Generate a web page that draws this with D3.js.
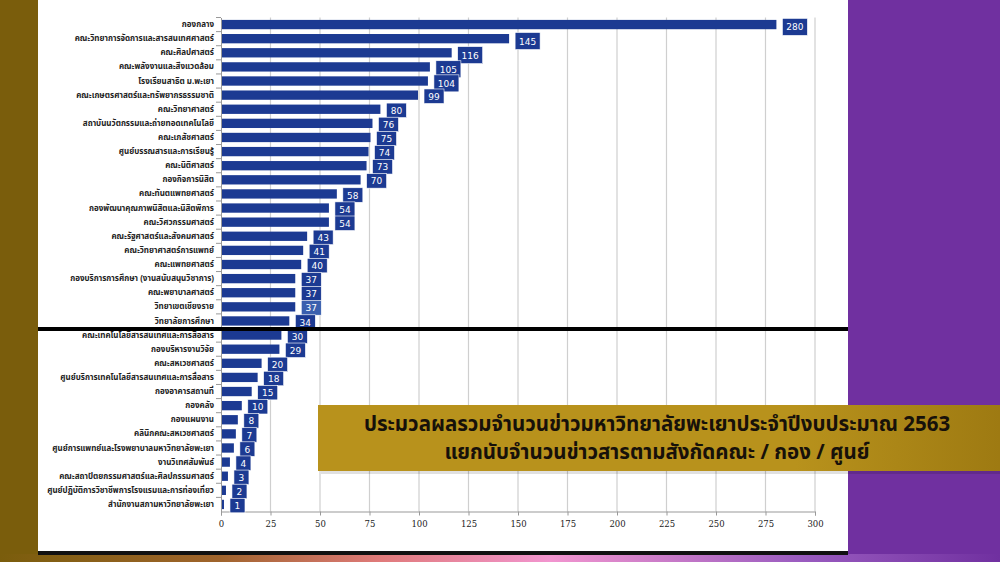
<!DOCTYPE html>
<html>
<head>
<meta charset="utf-8">
<script src="https://cdnjs.cloudflare.com/ajax/libs/d3/7.8.5/d3.min.js"></script>
<style>
  body { margin: 0; background: #7a5d0c; overflow: hidden; }
  svg { display: block; }
</style>
</head>
<body>
<div id="chart"></div>
<script>
var units = [
  'กองกลาง', 'คณะวิทยาการจัดการและสารสนเทศศาสตร์', 'คณะศิลปศาสตร์', 'คณะพลังงานและสิ่งแวดล้อม',
  'โรงเรียนสาธิต ม.พะเยา', 'คณะเกษตรศาสตร์และทรัพยากรธรรมชาติ', 'คณะวิทยาศาสตร์',
  'สถาบันนวัตกรรมและถ่ายทอดเทคโนโลยี', 'คณะเภสัชศาสตร์', 'ศูนย์บรรณสารและการเรียนรู้', 'คณะนิติศาสตร์',
  'กองกิจการนิสิต', 'คณะทันตแพทยศาสตร์', 'กองพัฒนาคุณภาพนิสิตและนิสิตพิการ', 'คณะวิศวกรรมศาสตร์',
  'คณะรัฐศาสตร์และสังคมศาสตร์', 'คณะวิทยาศาสตร์การแพทย์', 'คณะแพทยศาสตร์',
  'กองบริการการศึกษา (งานสนับสนุนวิชาการ)', 'คณะพยาบาลศาสตร์', 'วิทยาเขตเชียงราย', 'วิทยาลัยการศึกษา',
  'คณะเทคโนโลยีสารสนเทศและการสื่อสาร', 'กองบริหารงานวิจัย', 'คณะสหเวชศาสตร์',
  'ศูนย์บริการเทคโนโลยีสารสนเทศและการสื่อสาร', 'กองอาคารสถานที่', 'กองคลัง', 'กองแผนงาน',
  'คลินิกคณะสหเวชศาสตร์', 'ศูนย์การแพทย์และโรงพยาบาลมหาวิทยาลัยพะเยา', 'งานวิเทศสัมพันธ์',
  'คณะสถาปัตยกรรมศาสตร์และศิลปกรรมศาสตร์', 'ศูนย์ปฏิบัติการวิชาชีพการโรงแรมและการท่องเที่ยว',
  'สำนักงานสภามหาวิทยาลัยพะเยา'
];
var newsCount = [280, 145, 116, 105, 104, 99, 80, 76, 75, 74, 73, 70, 58, 54, 54, 43, 41, 40,
  37, 37, 37, 34, 30, 29, 20, 18, 15, 10, 8, 7, 6, 4, 3, 2, 1];
var xTicks = [0, 25, 50, 75, 100, 125, 150, 175, 200, 225, 250, 275, 300];
var titleLines = ['ประมวลผลรวมจำนวนข่าวมหาวิทยาลัยพะเยาประจำปีงบประมาณ 2563',
  'แยกนับจำนวนข่าวสารตามสังกัดคณะ / กอง / ศูนย์'];

var W = 1000, H = 562;
var thaiFont = "'Noto Sans Thai', 'Tahoma', 'DejaVu Sans', sans-serif";

var svg = d3.select('#chart').append('svg')
  .attr('width', W).attr('height', H);

// backdrop: olive left strip, white slide, purple right band, gradient at bottom
var defs = svg.append('defs');
var grad = defs.append('linearGradient').attr('id', 'bottomGrad');
grad.append('stop').attr('offset', '0%').attr('stop-color', '#7a5d0c');
grad.append('stop').attr('offset', '22%').attr('stop-color', '#a0642c');
grad.append('stop').attr('offset', '38%').attr('stop-color', '#e07a7a');
grad.append('stop').attr('offset', '55%').attr('stop-color', '#f295cf');
grad.append('stop').attr('offset', '80%').attr('stop-color', '#9a5cc0');
grad.append('stop').attr('offset', '100%').attr('stop-color', '#7030a0');

var bannerGrad = defs.append('linearGradient').attr('id', 'bannerGrad');
bannerGrad.append('stop').attr('offset', '0%').attr('stop-color', '#b8921c');
bannerGrad.append('stop').attr('offset', '70%').attr('stop-color', '#b8921c');
bannerGrad.append('stop').attr('offset', '100%').attr('stop-color', '#9e7a12');

svg.append('rect').attr('x', 0).attr('y', 0).attr('width', W).attr('height', H).attr('fill', '#7a5d0c');
svg.append('rect').attr('x', 0).attr('y', 554).attr('width', W).attr('height', 8).attr('fill', 'url(#bottomGrad)');
svg.append('rect').attr('x', 848).attr('y', 0).attr('width', 152).attr('height', 554).attr('fill', '#7030a0');
svg.append('rect').attr('x', 38).attr('y', 0).attr('width', 810).attr('height', 551).attr('fill', '#fff');
svg.append('rect').attr('x', 38).attr('y', 551).attr('width', 810).attr('height', 4).attr('fill', '#111');

var margin = { left: 221, right: 185, top: 17.5, bottom: 50.5 };

var x = d3.scaleLinear()
  .domain([0, 300])
  .range([margin.left, W - margin.right]);

var y = d3.scaleBand()
  .domain(units)
  .range([margin.top, H - margin.bottom])
  .paddingInner(0.34)
  .paddingOuter(0.17);

// gridlines
svg.append('g')
  .selectAll('line')
  .data(xTicks.slice(1))
  .enter().append('line')
  .attr('x1', function(d) { return x(d); })
  .attr('x2', function(d) { return x(d); })
  .attr('y1', margin.top)
  .attr('y2', H - margin.bottom)
  .attr('stroke', '#cfcfcf')
  .attr('stroke-width', 1.2);

// x axis
var xAxis = svg.append('g')
  .attr('transform', 'translate(0,' + (H - margin.bottom) + ')')
  .call(d3.axisBottom(x).tickValues(xTicks).tickSize(4).tickPadding(5));
xAxis.select('.domain').attr('stroke', '#999');
xAxis.selectAll('.tick line').attr('stroke', '#999');
xAxis.selectAll('text')
  .attr('fill', '#222')
  .style('font-family', "'DejaVu Serif', serif")
  .style('font-size', '8.5px');

// y axis
var yAxis = svg.append('g')
  .attr('transform', 'translate(' + margin.left + ',0)')
  .call(d3.axisLeft(y).tickSize(0).tickPadding(7));
yAxis.select('.domain').attr('stroke', '#999');
yAxis.selectAll('text')
  .attr('fill', '#222')
  .style('font-family', thaiFont)
  .style('font-weight', 'bold')
  .style('font-size', '8px');

// small marks between categories
svg.append('g')
  .selectAll('line')
  .data(units)
  .enter().append('line')
  .attr('x1', margin.left - 5)
  .attr('x2', margin.left)
  .attr('y1', function(d) { return y(d) - y.step() * y.paddingInner() / 2; })
  .attr('y2', function(d) { return y(d) - y.step() * y.paddingInner() / 2; })
  .attr('stroke', '#999');

// bars
svg.append('g')
  .selectAll('rect')
  .data(units)
  .enter().append('rect')
  .attr('x', x(0) + 1)
  .attr('y', function(d) { return y(d); })
  .attr('width', function(d, i) { return x(newsCount[i]) - x(0); })
  .attr('height', y.bandwidth())
  .attr('fill', '#1c3a92');

// value labels in dark boxes
function boxWidth(v) { return v >= 100 ? 25 : (v >= 10 ? 20 : 15); }

var labels = svg.append('g')
  .selectAll('g')
  .data(units)
  .enter().append('g')
  .attr('transform', function(d, i) {
    return 'translate(' + (x(newsCount[i]) + 7) + ',' + (y(d) - 1.5) + ')';
  });

labels.append('rect')
  .attr('width', function(d, i) { return boxWidth(newsCount[i]); })
  .attr('height', function(d, i) { return newsCount[i] >= 100 ? 17 : 14.5; })
  .attr('fill', function(d) { return d === 'วิทยาเขตเชียงราย' ? '#3a5fae' : '#1c3a92'; })
  .attr('stroke', '#fff')
  .attr('stroke-width', 0.6);

labels.append('text')
  .attr('x', function(d, i) { return boxWidth(newsCount[i]) / 2; })
  .attr('y', function(d, i) { return newsCount[i] >= 100 ? 12 : 10.8; })
  .attr('text-anchor', 'middle')
  .attr('fill', '#fff')
  .style('font-family', "'DejaVu Sans', sans-serif")
  .style('font-size', '9px')
  .text(function(d, i) { return newsCount[i]; });

// thick divider line
svg.append('rect')
  .attr('x', 38).attr('y', 327).attr('width', 810).attr('height', 4)
  .attr('fill', '#000');

// title banner
svg.append('rect')
  .attr('x', 321).attr('y', 408).attr('width', 679).attr('height', 66)
  .attr('fill', '#000').attr('opacity', 0.12);
svg.append('rect')
  .attr('x', 318).attr('y', 405).attr('width', 682).attr('height', 66)
  .attr('fill', 'url(#bannerGrad)');

svg.append('g')
  .selectAll('text')
  .data(titleLines)
  .enter().append('text')
  .attr('x', 657)
  .attr('y', function(d, i) { return 431 + i * 28; })
  .attr('text-anchor', 'middle')
  .attr('fill', '#17110a')
  .style('font-family', thaiFont)
  .style('font-size', '20.5px')
  .style('font-weight', 'bold')
  .text(function(d) { return d; });
</script>
</body>
</html>
